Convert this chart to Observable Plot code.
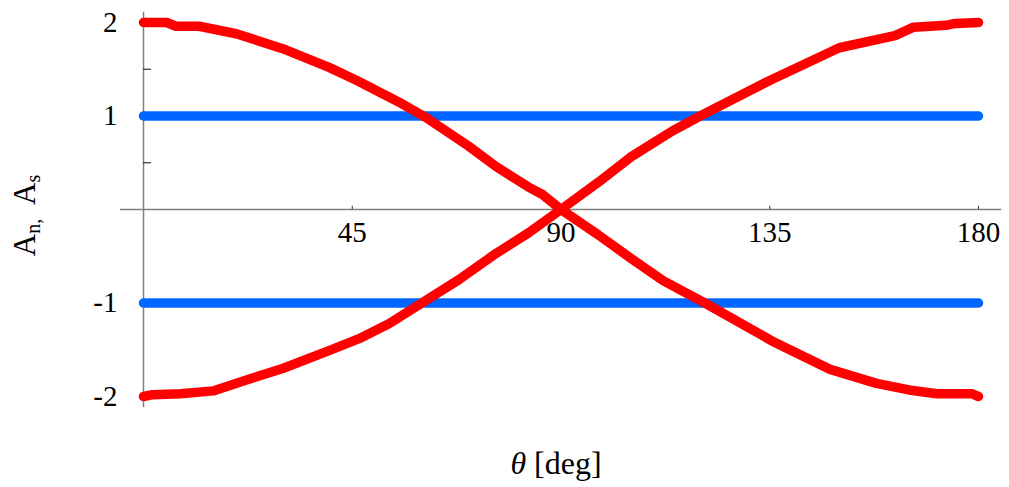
<!DOCTYPE html>
<html>
<head>
<meta charset="utf-8">
<script src="https://cdn.jsdelivr.net/npm/d3@7"></script>
<script src="https://cdn.jsdelivr.net/npm/@observablehq/plot@0.6"></script>
<style>
  html, body { margin: 0; padding: 0; background: #fff; }
  #chart svg { display: block; }
</style>
</head>
<body>
<div id="chart"></div>
<script>
// Angle θ in degrees and amplitudes for the falling and rising red curves
const fallTheta = [0, 5, 7, 12, 20, 30, 40, 46, 55, 61, 70, 76, 83, 86, 90, 98, 105, 112, 121, 136, 148, 158, 165, 171, 178.5, 180];
const fallValue = [2, 2, 1.96, 1.96, 1.88, 1.72, 1.52, 1.38, 1.15, 0.98, 0.68, 0.46, 0.24, 0.16, 0, -0.27, -0.52, -0.76, -1, -1.42, -1.71, -1.86, -1.93, -1.97, -1.97, -2];

const riseTheta = [0, 2, 8, 15, 23, 30, 40, 47, 53, 60, 68, 76, 83, 90, 98, 105, 114, 120, 135, 150, 162, 166, 173, 175, 180];
const riseValue = [-2, -1.98, -1.97, -1.94, -1.81, -1.70, -1.51, -1.37, -1.22, -1, -0.75, -0.47, -0.25, 0, 0.29, 0.56, 0.84, 1, 1.38, 1.73, 1.86, 1.95, 1.97, 1.99, 2];

// Constant blue levels
const levelTheta = [0, 180];
const upperLevel = [1, 1];
const lowerLevel = [-1, -1];

// Tick positions and labels
const xTickValues = [45, 90, 135, 180];
const xTickLabels = ["45", "90", "135", "180"];
const yTickValues = [2, 1, -1, -2];
const yTickLabels = ["2", "1", "-1", "-2"];
const yMinorTicks = [0.5, 1.5];

const RED = "#ff0000";
const BLUE = "#0066ff";
const AXIS = "#808080";
const FONT = "'Liberation Serif', 'DejaVu Serif', serif";

const X_TITLE = "θ [deg]";
const Y_TITLE = "An, As";

const plot = Plot.plot({
  width: 1009,
  height: 487,
  marginLeft: 143,
  marginRight: 31,
  marginTop: 22,
  marginBottom: 91,
  x: { type: "linear", domain: [0, 180], axis: null },
  y: { type: "linear", domain: [-2, 2], axis: null },
  style: { fontFamily: FONT, fontSize: "28px", background: "#fff", color: "#000" },
  marks: [
    // axes crossing at the origin
    Plot.ruleY([0], { x1: -5, x2: 185, stroke: AXIS, strokeWidth: 1.5 }),
    Plot.ruleX([0], { y1: -2.12, y2: 2.11, stroke: AXIS, strokeWidth: 1.5 }),
    // minor ticks on the vertical axis
    Plot.ruleY(yMinorTicks, { x1: 0, x2: 1.7, stroke: "#333", strokeWidth: 1.2 }),
    // small ticks on the horizontal axis
    Plot.ruleX(xTickValues, { y1: 0, y2: 0.035, stroke: "#333", strokeWidth: 1 }),

    // blue levels
    Plot.line(levelTheta, { x: d => d, y: (d, i) => upperLevel[i], stroke: BLUE, strokeWidth: 9.5, strokeLinecap: "round" }),
    Plot.line(levelTheta, { x: d => d, y: (d, i) => lowerLevel[i], stroke: BLUE, strokeWidth: 9.5, strokeLinecap: "round" }),

    // red curves
    Plot.line(fallTheta, { x: d => d, y: (d, i) => fallValue[i], stroke: RED, strokeWidth: 9.5, strokeLinecap: "round", strokeLinejoin: "round" }),
    Plot.line(riseTheta, { x: d => d, y: (d, i) => riseValue[i], stroke: RED, strokeWidth: 9.5, strokeLinecap: "round", strokeLinejoin: "round" }),

    // tick labels
    Plot.text(xTickValues, { x: d => d, y: 0, dy: 23, text: (d, i) => xTickLabels[i], fontSize: 29, lineAnchor: "middle", fill: "#000" }),
    Plot.text(yTickValues, { x: 0, y: d => d, dx: -26, text: (d, i) => yTickLabels[i], textAnchor: "end", fontSize: 29, lineAnchor: "middle", fill: "#000" }),

    // axis titles (rich formatting applied below)
    Plot.text([X_TITLE], { frameAnchor: "bottom", dx: -5, dy: 67, textAnchor: "middle", lineAnchor: "middle", fontSize: 32, fill: "#000" }),
    Plot.text([Y_TITLE], { frameAnchor: "left", dx: -118, dy: 6, rotate: -90, textAnchor: "middle", lineAnchor: "middle", fontSize: 31, fill: "#000" })
  ]
});

const findText = s => d3.select(plot).selectAll("text").filter(function () { return this.textContent === s; });

// Italic theta in the x title
const xt = findText(X_TITLE);
xt.text(null);
xt.append("tspan").attr("font-style", "italic").text("θ");
xt.append("tspan").text(" [deg]");

// Subscripted amplitude names in the y title
const yt = findText(Y_TITLE);
yt.text(null);
yt.append("tspan").text("A");
yt.append("tspan").attr("font-size", 20).attr("dy", 5).text("n,");
yt.append("tspan").attr("dy", -5).text("  A");
yt.append("tspan").attr("font-size", 20).attr("dy", 5).text("s");

document.getElementById("chart").appendChild(plot);
</script>
</body>
</html>
